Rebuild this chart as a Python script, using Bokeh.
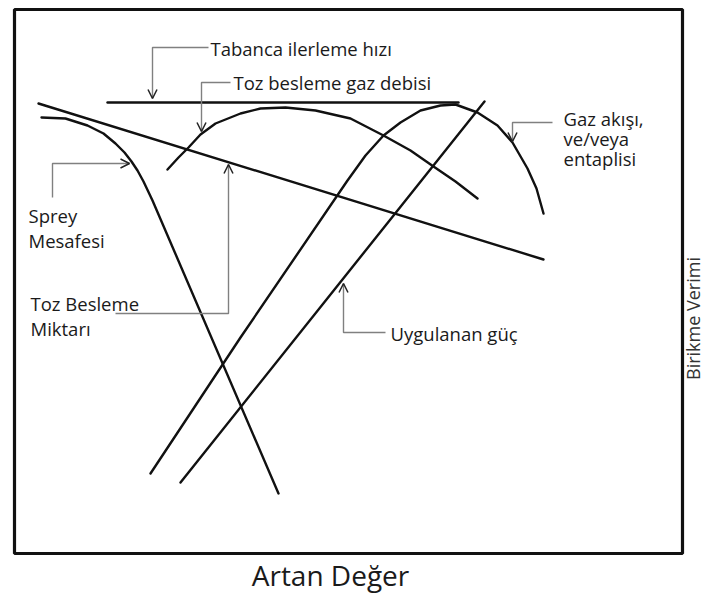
from bokeh.plotting import figure
from bokeh.models import Range1d, Arrow, OpenHead, ColumnDataSource
from bokeh.embed import file_html
from bokeh.resources import INLINE
from bokeh.core.properties import value
import math

# ---- curve data (in picture units) ----
tabanca_x = [107, 458]
tabanca_y = [102, 102]

miktar_x = [38, 543]
miktar_y = [103, 259]

sprey_x = [41, 65, 87, 103, 115, 124, 131, 137, 143, 152, 278]
sprey_y = [117, 118, 125, 133, 143, 152, 161, 170, 181, 200, 493]

gazdeb_x = [167, 178, 188, 200, 215, 240, 260, 285, 315, 350, 383, 410, 433, 455, 477]
gazdeb_y = [169, 157, 147, 134, 123, 113, 108, 107, 110, 118, 135, 150, 166, 181, 198]

gazak_x = [150, 240, 347, 365, 383, 400, 420, 440, 455, 477, 497, 512, 527, 536, 543]
gazak_y = [473, 337, 180, 155, 135, 122, 110, 105, 104, 112, 125, 142, 168, 188, 213]

guc_x = [180, 484]
guc_y = [482, 101]

# ---- leader lines (last segment ends in an arrow head) ----
tabanca_lead_x = [208, 152, 152]
tabanca_lead_y = [47, 47, 98]
gazdeb_lead_x = [230, 201, 201]
gazdeb_lead_y = [82, 82, 131]
sprey_lead_x = [52, 52, 129]
sprey_lead_y = [197, 163, 163]
miktar_lead_x = [115, 228, 228]
miktar_lead_y = [313, 313, 164]
gazak_lead_x = [552, 512, 512]
gazak_lead_y = [122, 122, 141]
guc_lead_x = [385, 343, 343]
guc_lead_y = [332, 332, 283]

# ---- labels ----
lab_text = ["Tabanca ilerleme hızı", "Toz besleme gaz debisi", "Sprey", "Mesafesi",
            "Toz Besleme", "Miktarı", "Gaz akışı,", "ve/veya", "entaplisi", "Uygulanan güç"]
lab_x = [210, 233, 28, 28, 30, 30, 563, 563, 563, 390]
lab_y = [48, 82, 215, 240, 303, 328, 118, 138, 158, 333]

xlabel_text = "Artan Değer"
ylabel_text = "Birikme Verimi"

# frame box
box_left, box_right, box_top, box_bottom = 14, 682, 9, 553

W, H = 705, 593
p = figure(width=W, height=H, x_range=Range1d(0, W), y_range=Range1d(H, 0),
           output_backend="svg", toolbar_location=None, min_border=0,
           x_axis_location=None, y_axis_location=None)
p.grid.visible = False
p.outline_line_color = None
p.background_fill_color = "white"
p.border_fill_color = "white"

p.quad(left=[box_left], right=[box_right], top=[box_top], bottom=[box_bottom],
       fill_color=None, line_color="#111111", line_width=3.2)

curve_kw = dict(line_color="#111111", line_width=2.4, line_join="round", line_cap="round")
for xs, ys in [(tabanca_x, tabanca_y), (miktar_x, miktar_y), (sprey_x, sprey_y),
               (gazdeb_x, gazdeb_y), (gazak_x, gazak_y), (guc_x, guc_y)]:
    p.line(xs, ys, **curve_kw)

leaders = [(tabanca_lead_x, tabanca_lead_y), (gazdeb_lead_x, gazdeb_lead_y),
           (sprey_lead_x, sprey_lead_y), (miktar_lead_x, miktar_lead_y),
           (gazak_lead_x, gazak_lead_y), (guc_lead_x, guc_lead_y)]
for xs, ys in leaders:
    p.line(xs, ys, line_color="#808080", line_width=1.4)
    p.add_layout(Arrow(x_start=xs[-2], y_start=ys[-2], x_end=xs[-1], y_end=ys[-1],
                       line_alpha=0,
                       end=OpenHead(size=9, line_width=1.5, line_color="#222222")))

src = ColumnDataSource(dict(x=lab_x, y=lab_y, t=lab_text))
p.text(x="x", y="y", text="t", source=src, text_font=value("Open Sans"),
       text_font_size="18.5px", text_color="#1a1a1a", text_align="left",
       text_baseline="middle")

p.text(x=[330], y=[574], text=[xlabel_text], text_font=value("Open Sans"),
       text_font_size="28px", text_color="#1a1a1a", text_align="center",
       text_baseline="alphabetic")

p.text(x=[692], y=[318], text=[ylabel_text], text_font=value("Open Sans"),
       text_font_size="18px", text_color="#333333", text_align="center",
       text_baseline="middle", angle=math.pi / 2)

open("out.html", "w").write(file_html(p, INLINE))
